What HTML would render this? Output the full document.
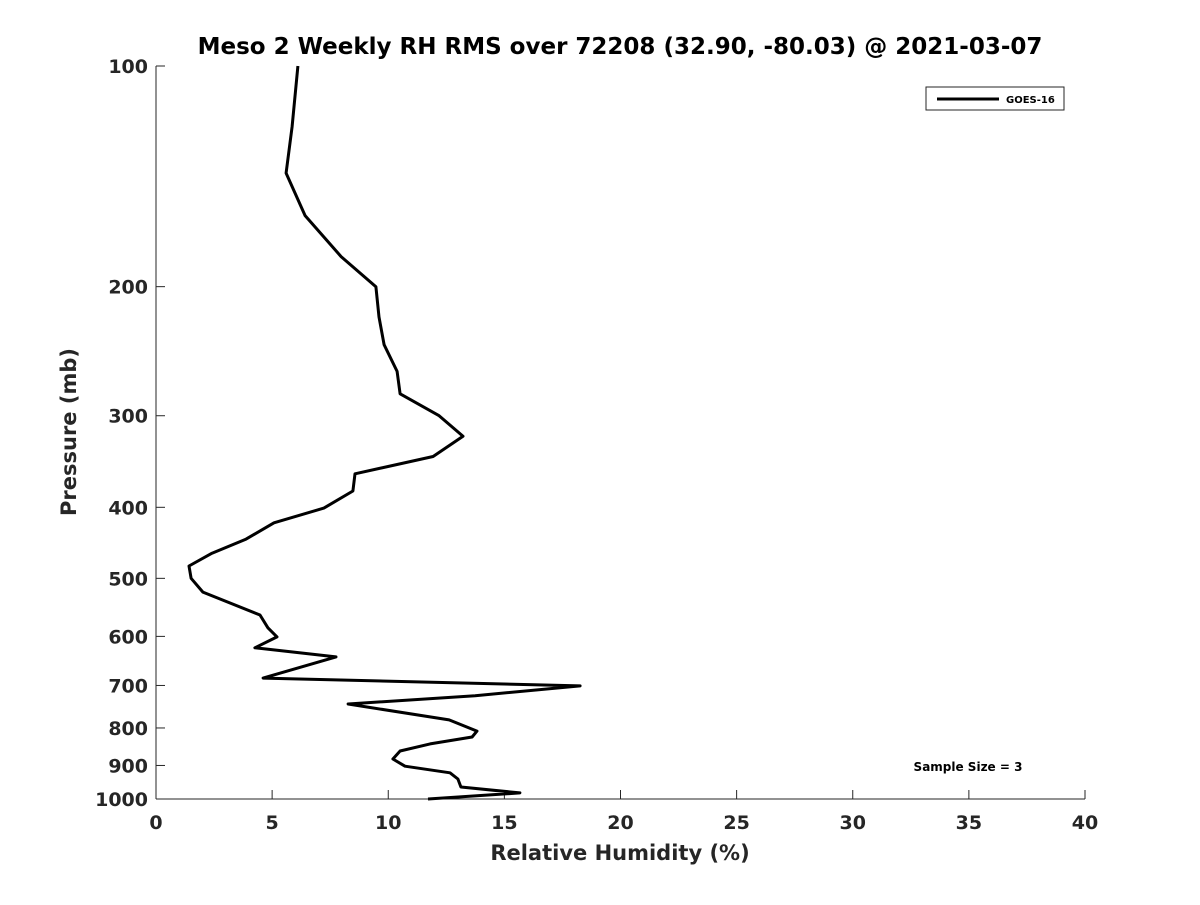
<!DOCTYPE html>
<html><head><meta charset="utf-8"><style>
body{margin:0;background:#fff;font-family:"Liberation Sans","DejaVu Sans",sans-serif}
svg text{font-family:"DejaVu Sans","Liberation Sans",sans-serif;font-weight:bold;fill:#262626}
</style></head><body>
<svg id="chart" width="1200" height="900" xmlns="http://www.w3.org/2000/svg">
<rect width="1200" height="900" fill="#fff"/>
<text x="620" y="54" font-size="23" text-anchor="middle" style="fill:#000">Meso 2 Weekly RH RMS over 72208 (32.90, -80.03) @ 2021-03-07</text>
<g id="axes"></g>
<path id="series" fill="none" stroke="#000" stroke-width="3" stroke-linejoin="round"/>
<g>
<rect x="926" y="87" width="138" height="23" fill="#fff" stroke="#262626" stroke-width="1"/>
<line x1="937" y1="99" x2="999" y2="99" stroke="#000" stroke-width="3"/>
<text x="1006" y="103" font-size="10" style="fill:#000">GOES-16</text>
</g>
<text x="968" y="771" font-size="12" text-anchor="middle" style="fill:#000">Sample Size = 3</text>
<text x="620" y="860" font-size="21" text-anchor="middle">Relative Humidity (%)</text>
<text transform="translate(76,432) rotate(-90)" font-size="21" text-anchor="middle">Pressure (mb)</text>
</svg>
<script>
const pressures=[100,121,140,160,182,200,220,240,261,280,300,320,341,360,380,401,420,442,462,481,500,522,561,584,601,622,640,684,701,723,742,780,808,823,841,860,882,902,921,939,963,981,1000];
const rhValues=[6.11,5.86,5.6,6.42,7.97,9.47,9.6,9.82,10.38,10.51,12.19,13.22,11.93,8.57,8.48,7.23,5.08,3.88,2.41,1.42,1.51,2.02,4.48,4.82,5.21,4.26,7.75,4.61,18.26,13.74,8.27,12.62,13.82,13.61,11.8,10.51,10.2,10.72,12.66,13.0,13.13,15.67,11.71];
const xTicks=[0,5,10,15,20,25,30,35,40];
const yTicks=[100,200,300,400,500,600,700,800,900,1000];
const X0=156,X1=1085,Y0=66,Y1=799;
const xs=v=>X0+(v-0)/40*(X1-X0);
const ys=p=>Y0+Math.log10(p/100)*(Y1-Y0);
const NS="http://www.w3.org/2000/svg";
const ax=document.getElementById('axes');
function mk(t,a){const e=document.createElementNS(NS,t);for(const k in a)e.setAttribute(k,a[k]);return e;}
const l1=mk('line',{x1:X0,y1:Y0,x2:X0,y2:Y1,stroke:'#262626','stroke-width':1});


ax.appendChild(l1);
const l2=mk('line',{x1:X0,y1:Y1,x2:X1,y2:Y1,stroke:'#262626','stroke-width':1});


ax.appendChild(l2);
xTicks.forEach(v=>{const x=xs(v);
ax.appendChild(mk('line',{x1:x,y1:Y1,x2:x,y2:Y1-9,stroke:'#262626'}));
const t=mk('text',{x:x,y:Y1+30,'font-size':19,'text-anchor':'middle'});t.textContent=v;


ax.appendChild(t);});
yTicks.forEach(p=>{const y=ys(p);
ax.appendChild(mk('line',{x1:X0,y1:y,x2:X0+9,y2:y,stroke:'#262626'}));
const t=mk('text',{x:X0-8,y:y+7,'font-size':19,'text-anchor':'end'});t.textContent=p;


ax.appendChild(t);});
document.getElementById('series').setAttribute('d',pressures.map((p,i)=>(i?'L':'M')+xs(rhValues[i]).toFixed(1)+','+ys(p).toFixed(1)).join(''));
</script>
</body></html>
